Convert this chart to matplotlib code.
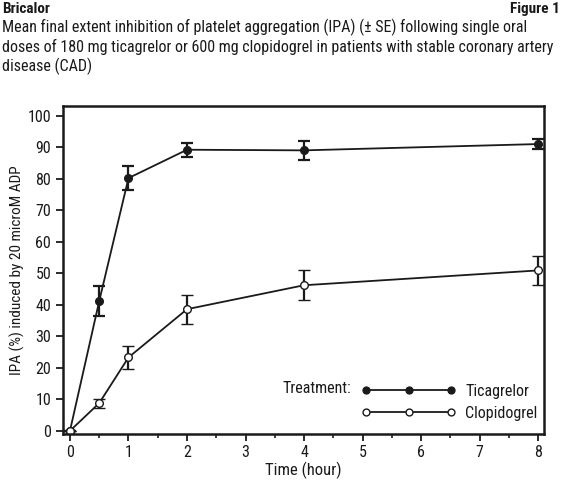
import numpy as np
import matplotlib.pyplot as plt
from matplotlib.ticker import MultipleLocator

FONT = ['Roboto Condensed', 'Liberation Sans Narrow', 'DejaVu Sans']
plt.rcParams['font.family'] = FONT

# values
time_h = [0, 0.5, 1, 2, 4, 8]
tica_mean = [0, 41.2, 80.2, 89.2, 89.0, 91.0]
tica_se = [0, 4.8, 3.7, 2.2, 3.1, 1.7]
clop_mean = [0, 8.8, 23.3, 38.6, 46.2, 50.9]
clop_se = [0, 1.4, 3.7, 4.6, 4.7, 4.7]

INK = '#1a1a1a'

fig = plt.figure(figsize=(5.62, 4.82), dpi=100)
ax = fig.add_axes([0.112, 0.0996, 0.856, 0.680])

# header text
fig.text(0.004, 0.996, "Bricalor", fontsize=11, fontweight='bold', va='top', ha='left', color=INK)
fig.text(0.997, 0.996, "Figure 1", fontsize=11, fontweight='bold', va='top', ha='right', color=INK)
fig.text(0.004, 0.962,
         "Mean final extent inhibition of platelet aggregation (IPA) (\u00b1 SE) following single oral\n"
         "doses of 180 mg ticagrelor or 600 mg clopidogrel in patients with stable coronary artery\n"
         "disease (CAD)",
         fontsize=11.5, va='top', ha='left', linespacing=1.25, color=INK)

err_kw = dict(capsize=4.5, elinewidth=1.6, capthick=1.6, ecolor=INK)
ax.errorbar(time_h, tica_mean, yerr=tica_se, color=INK, lw=1.3, marker='o',
            ms=5.5, mfc=INK, mec=INK, label='Ticagrelor', **err_kw)
ax.errorbar(time_h, clop_mean, yerr=clop_se, color=INK, lw=1.3, marker='o',
            ms=5.5, mfc='white', mec=INK, mew=1.0, label='Clopidogrel', **err_kw)

ax.set_xlim(-0.12, 8.1)
ax.set_ylim(-1, 103)
ax.set_xticks(range(0, 9))
ax.xaxis.set_minor_locator(MultipleLocator(0.5))
ax.set_yticks(range(0, 101, 10))
ax.tick_params(axis='both', which='major', direction='out', length=5, width=1.3,
               labelsize=11.5, color=INK, labelcolor=INK)
ax.tick_params(axis='x', which='minor', direction='out', length=3, width=1.2, color=INK)
ax.tick_params(axis='x', pad=3)
for sp in ax.spines.values():
    sp.set_linewidth(1.8)
    sp.set_color(INK)

ax.set_xlabel("Time (hour)", fontsize=12, color=INK, labelpad=1)
ax.set_ylabel("IPA (%) induced by 20 microM ADP", fontsize=11, color=INK, labelpad=2)

handles, labels = ax.get_legend_handles_labels()
leg = ax.legend([h[0] for h in handles], labels, loc='lower right', bbox_to_anchor=(1.0, 0.02),
                frameon=False, numpoints=3, handlelength=5.9, handletextpad=0.6,
                fontsize=11.5, labelspacing=0.45, borderaxespad=0.0, markerscale=0.9)
for t in leg.get_texts():
    t.set_color(INK)
ax.text(0.600, 0.140, "Treatment:", transform=ax.transAxes, fontsize=11.5, ha='right', va='center',
        color=INK)

fig.savefig("out.png", dpi=100)
